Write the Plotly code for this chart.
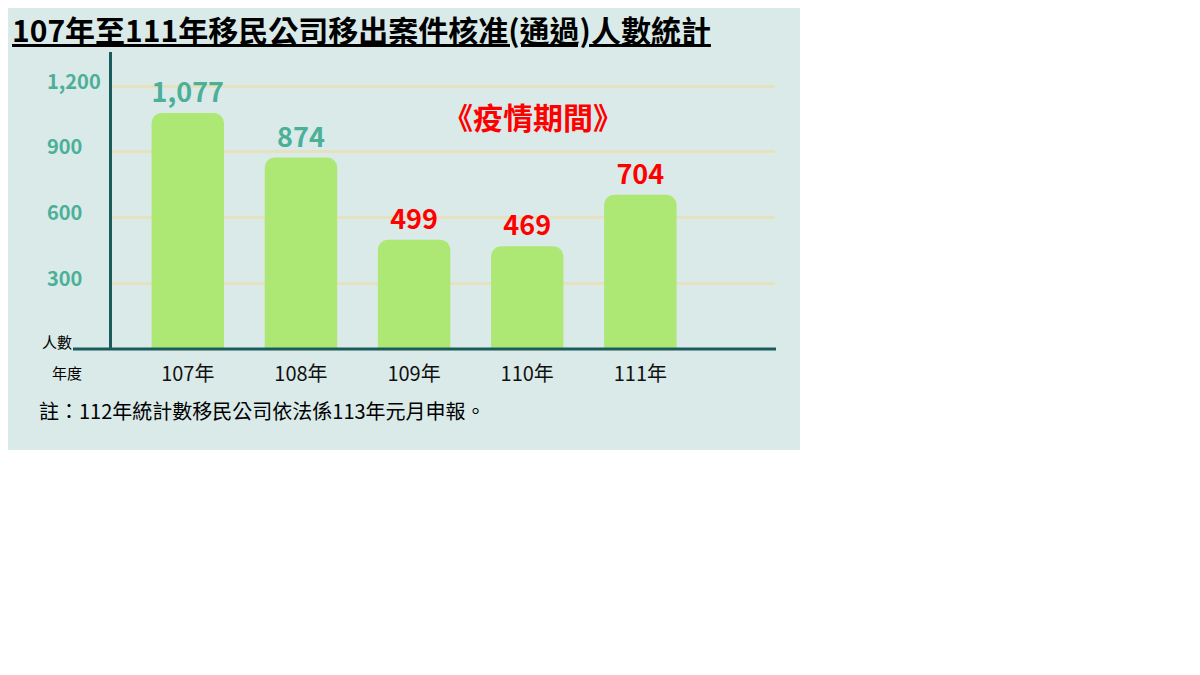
import plotly.graph_objects as go

# data
YEARS = ["107年", "108年", "109年", "110年", "111年"]
COUNTS = [1077, 874, 499, 469, 704]
TICK_VALS = [300, 600, 900, 1200]
TICK_TEXT = ["300", "600", "900", "1,200"]

COLOR_BG = "#d9eae8"
COLOR_BAR = "#ade874"
COLOR_TEAL = "#4caf98"
COLOR_RED = "#ff0000"
COLOR_AXIS = "#1a5c5c"
COLOR_GRID = "#e6e2bf"
FONT_FAMILY = "Noto Sans CJK TC"

W, H = 1200, 675
OFF = 8   # page puts the figure 8px in from the corner
L, R, T, B = 112 - OFF, 425 + OFF, 52 - OFF, 326 + OFF   # plot area in px
PLOT_W = W - L - R
PLOT_H = H - T - B
Y_MAX = 1356

# pandemic years get red labels
label_colors = [COLOR_TEAL, COLOR_TEAL, COLOR_RED, COLOR_RED, COLOR_RED]


def px_x(px):
    return (px - OFF - L) / PLOT_W


def px_y(py):
    return (H - B - (py - OFF)) / PLOT_H


fig = go.Figure()

fig.add_trace(go.Bar(x=YEARS,
                     y=COUNTS,
                     marker=dict(color=COLOR_BAR, line=dict(width=0)),
                     width=0.64,
                     text=[f"{v:,}" for v in COUNTS],
                     textposition="outside",
                     textfont=dict(family=FONT_FAMILY, size=27, color=label_colors, weight="bold"),
                     cliponaxis=False,
                     hoverinfo="skip"))

fig.update_layout(width=W,
                  height=H,
                  margin=dict(l=L, r=R, t=T, b=B),
                  paper_bgcolor="white",
                  plot_bgcolor=COLOR_BG,
                  showlegend=False,
                  barcornerradius=10,
                  font=dict(family=FONT_FAMILY, color="black"),
                  xaxis=dict(range=[-0.67, 5.19],
                             showgrid=False,
                             showline=False,
                             ticks="",
                             tickfont=dict(size=20, color="#111111"),
                             ticklabelstandoff=11),
                  yaxis=dict(range=[0, Y_MAX],
                             tickvals=TICK_VALS,
                             showticklabels=False,
                             gridcolor=COLOR_GRID,
                             gridwidth=3,
                             zeroline=False,
                             showline=True,
                             linecolor=COLOR_AXIS,
                             linewidth=3))

# teal panel behind the whole chart
fig.add_shape(type="rect", xref="paper", yref="paper", layer="below",
              x0=px_x(0), x1=px_x(800), y0=px_y(450), y1=px_y(0),
              fillcolor=COLOR_BG, line=dict(width=0))

# baseline running out past the y axis
fig.add_shape(type="line", xref="paper", yref="paper",
              x0=px_x(73), x1=px_x(776), y0=0, y1=0,
              line=dict(color=COLOR_AXIS, width=3))

# left aligned tick labels
for val, txt in zip(TICK_VALS, TICK_TEXT):
    fig.add_annotation(text=txt, xref="paper", yref="y",
                       x=px_x(45), y=val, xanchor="left", yanchor="middle",
                       yshift=6, showarrow=False,
                       font=dict(size=20, color=COLOR_TEAL, weight="bold"))

fig.add_annotation(text="107年至111年移民公司移出案件核准(通過)人數統計",
                   xref="paper", yref="paper", x=px_x(10), y=px_y(29),
                   xanchor="left", yanchor="middle", showarrow=False,
                   font=dict(size=30, color="black", weight="bold", lineposition="under"))

fig.add_annotation(text="《疫情期間》", xref="paper", yref="paper",
                   x=px_x(533), y=px_y(116), xanchor="center", yanchor="middle",
                   showarrow=False,
                   font=dict(size=30, color=COLOR_RED, weight="bold"))

fig.add_annotation(text="人數", xref="paper", yref="paper",
                   x=px_x(40), y=px_y(341), xanchor="left", yanchor="middle",
                   showarrow=False, font=dict(size=15, color="black"))

fig.add_annotation(text="年度", xref="paper", yref="paper",
                   x=px_x(50), y=px_y(372), xanchor="left", yanchor="middle",
                   showarrow=False, font=dict(size=15, color="black"))

fig.add_annotation(text="註：112年統計數移民公司依法係113年元月申報。",
                   xref="paper", yref="paper", x=px_x(37), y=px_y(410),
                   xanchor="left", yanchor="middle", showarrow=False,
                   font=dict(size=20, color="black"))

fig.write_html("out.html")
